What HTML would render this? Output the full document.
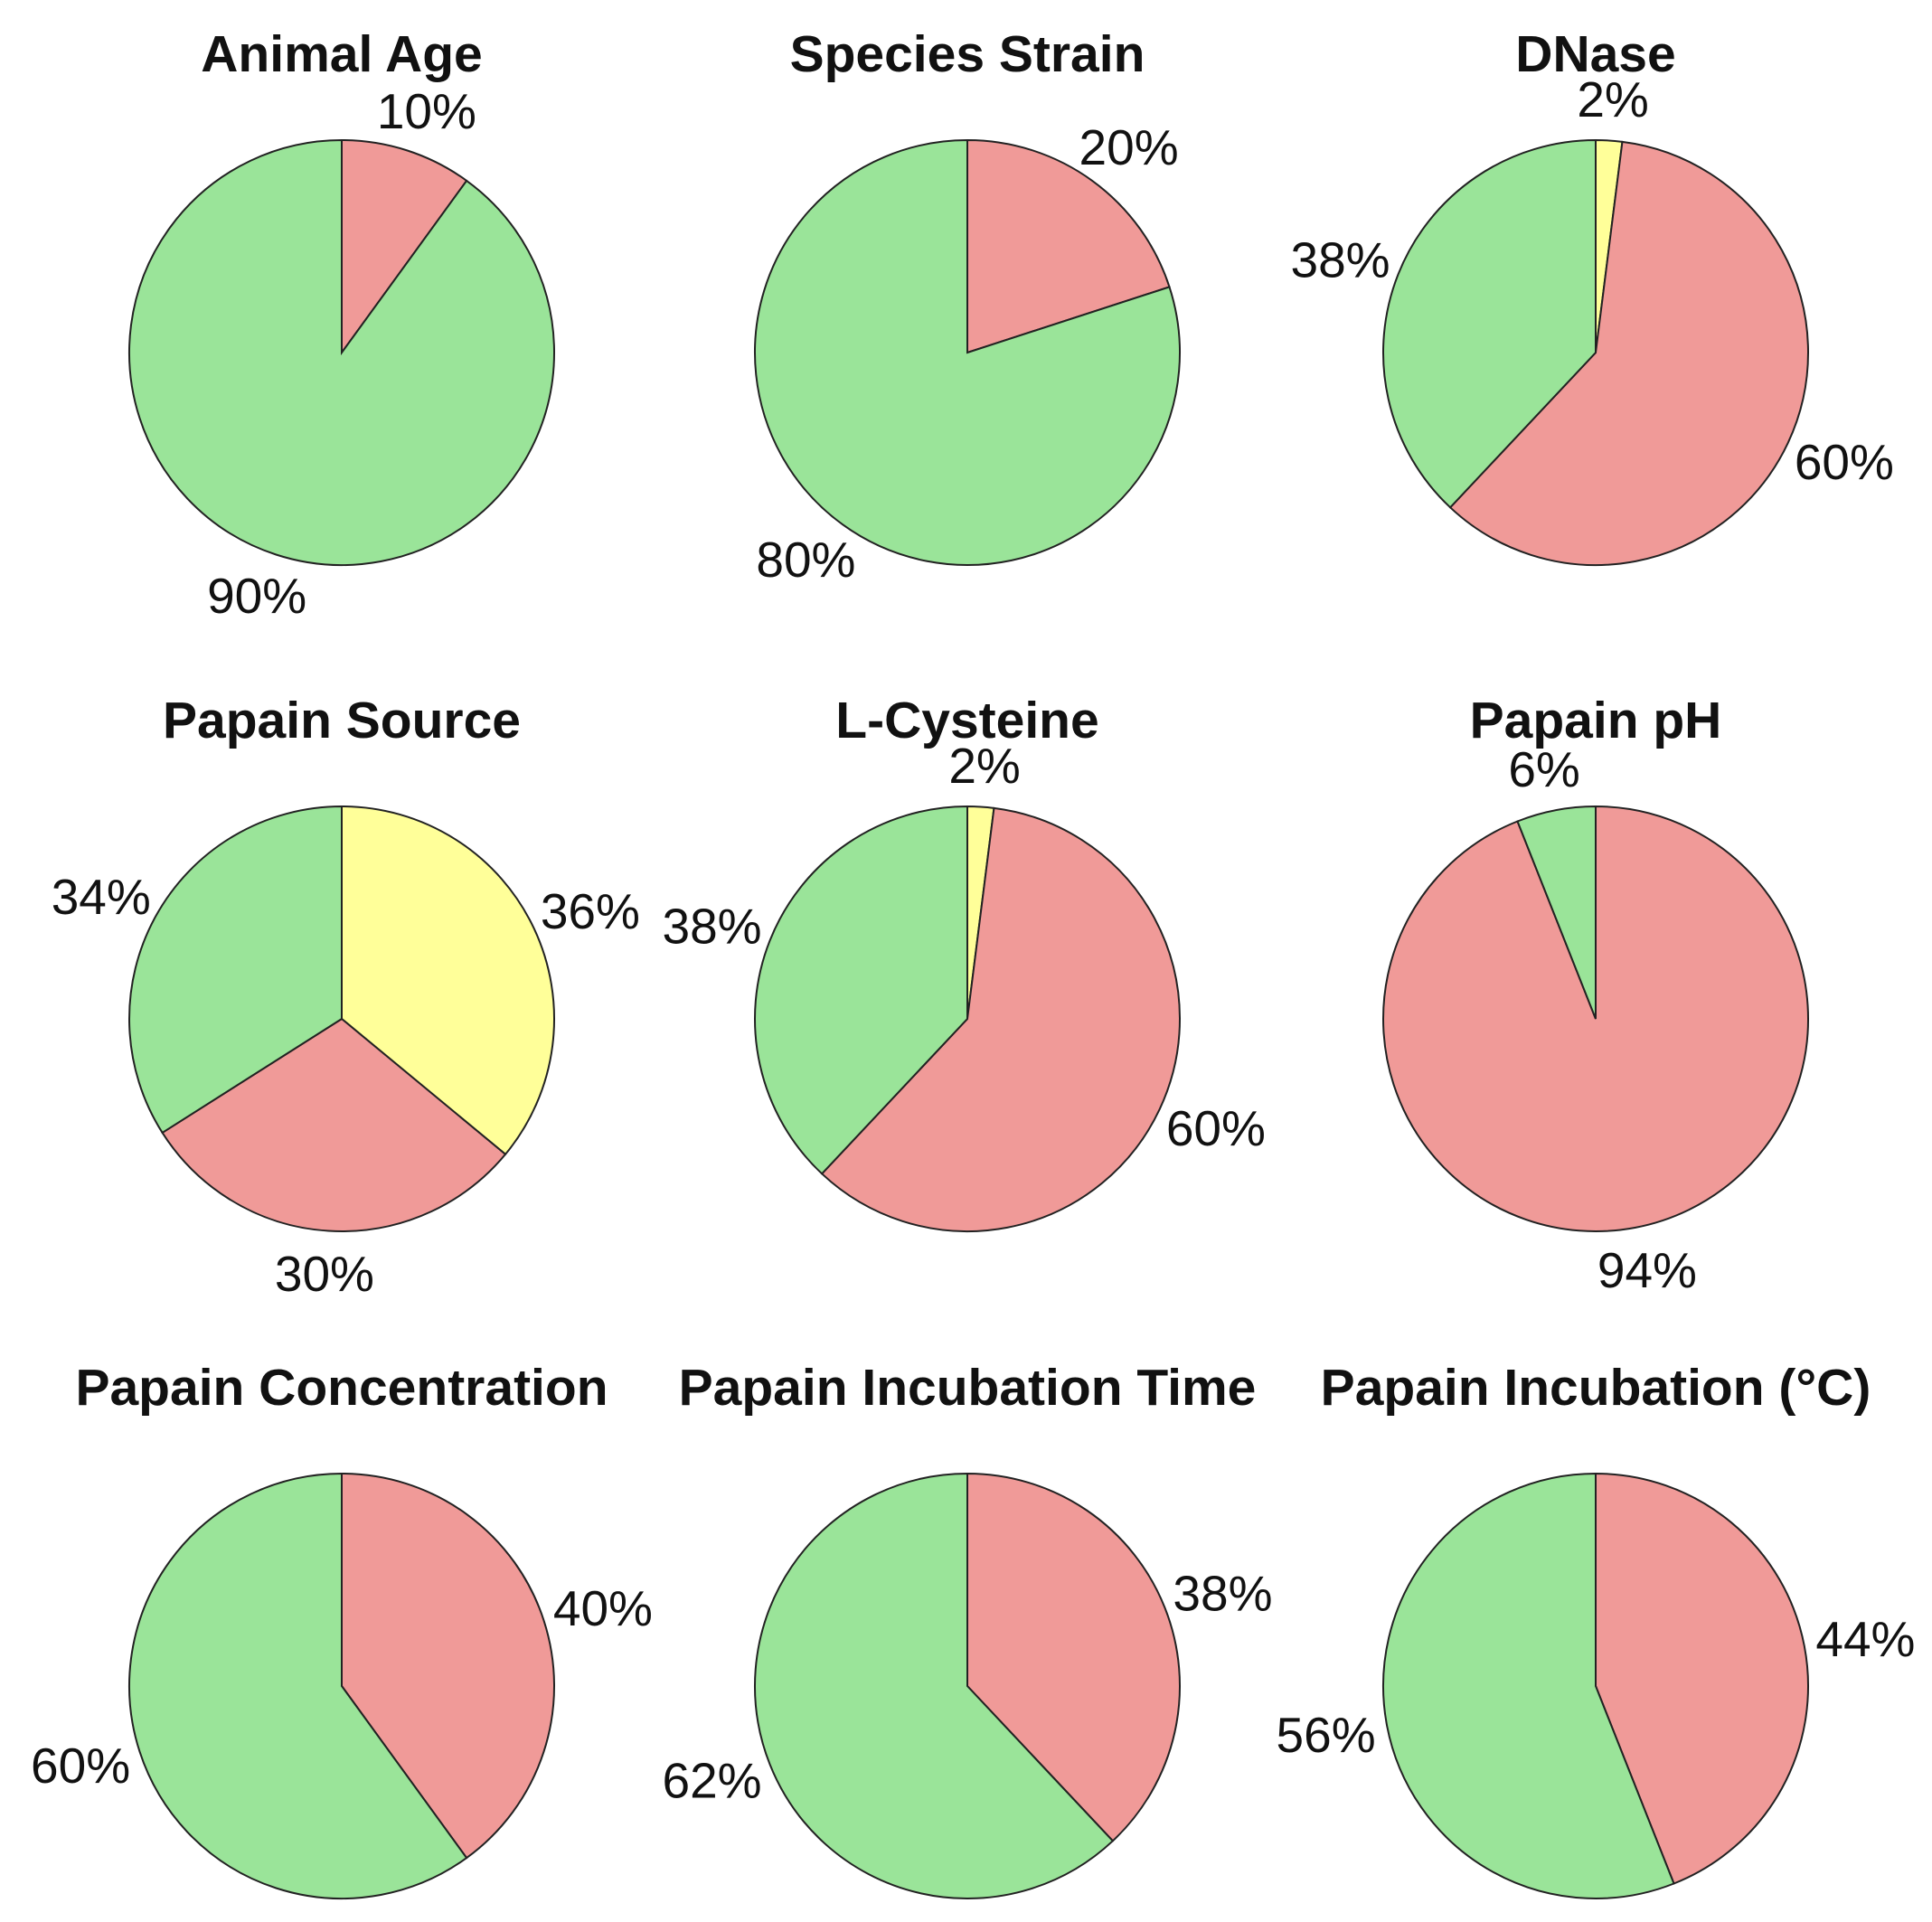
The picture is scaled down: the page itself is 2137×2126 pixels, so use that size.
<!DOCTYPE html>
<html><head><meta charset="utf-8"><style>
html,body{margin:0;padding:0;background:#fff;}
svg{display:block;}
text{font-family:"Liberation Sans",Arial,sans-serif;fill:#111;}
</style></head><body>
<svg id="chart" width="2137" height="2126" viewBox="0 0 2137 2126"></svg>
<script>
const titles = ["Animal Age","Species Strain","DNase","Papain Source","L-Cysteine","Papain pH","Papain Concentration","Papain Incubation Time","Papain Incubation (°C)"];
const sliceValues = [[10,90],[20,80],[2,60,38],[36,30,34],[2,60,38],[94,6],[40,60],[38,62],[44,56]];
const sliceKinds = [["red","green"],["red","green"],["yellow","red","green"],["yellow","red","green"],["yellow","red","green"],["red","green"],["red","green"],["red","green"],["red","green"]];
const colors = {red:"#f09a98",green:"#9ae499",yellow:"#ffff99"};
const colX=[378,1070,1765], rowY=[390,1127,1865], R=235;
const svg=document.getElementById('chart');
const NS="http://www.w3.org/2000/svg";
function pt(cx,cy,r,frac){const a=frac*2*Math.PI;return [cx+r*Math.sin(a),cy-r*Math.cos(a)];}
titles.forEach((t,i)=>{
  const cx=colX[i%3], cy=rowY[Math.floor(i/3)];
  const g=document.createElementNS(NS,'g');
  
  
  svg.appendChild(g);
  const tt=document.createElementNS(NS,'text');
  
  
  tt.setAttribute('x',cx);tt.setAttribute('y',cy-R-76);
  tt.setAttribute('text-anchor','middle');tt.setAttribute('font-size','57');tt.setAttribute('font-weight','bold');
  tt.textContent=t;g.appendChild(tt);
  const vals=sliceValues[i], total=vals.reduce((a,b)=>a+b,0);
  let cum=0;
  vals.forEach((v,j)=>{
    const f0=cum/total, f1=(cum+v)/total; cum+=v;
    const p0=pt(cx,cy,R,f0), p1=pt(cx,cy,R,f1);
    const large=(f1-f0)>0.5?1:0;
    const path=document.createElementNS(NS,'path');
    
    
    path.setAttribute('d',`M${cx},${cy}L${p0[0]},${p0[1]}A${R},${R} 0 ${large} 1 ${p1[0]},${p1[1]}Z`);
    path.setAttribute('fill',colors[sliceKinds[i][j]]);
    path.setAttribute('stroke','#222');path.setAttribute('stroke-width','2');
    g.appendChild(path);
    const fm=(f0+f1)/2, a=fm*2*Math.PI;
    const lp=pt(cx,cy,R*1.08,fm);
    const w=100,h=56;
    const lx=lp[0]+w/2*Math.sin(a), ly=lp[1]-h/2*Math.cos(a);
    const lab=document.createElementNS(NS,'text');
    
    
    lab.setAttribute('x',lx);lab.setAttribute('y',ly+20);
    lab.setAttribute('text-anchor','middle');lab.setAttribute('font-size','55');
    lab.textContent=Math.round(v/total*100)+'%';
    g.appendChild(lab);
  });
});
</script>
</body></html>
